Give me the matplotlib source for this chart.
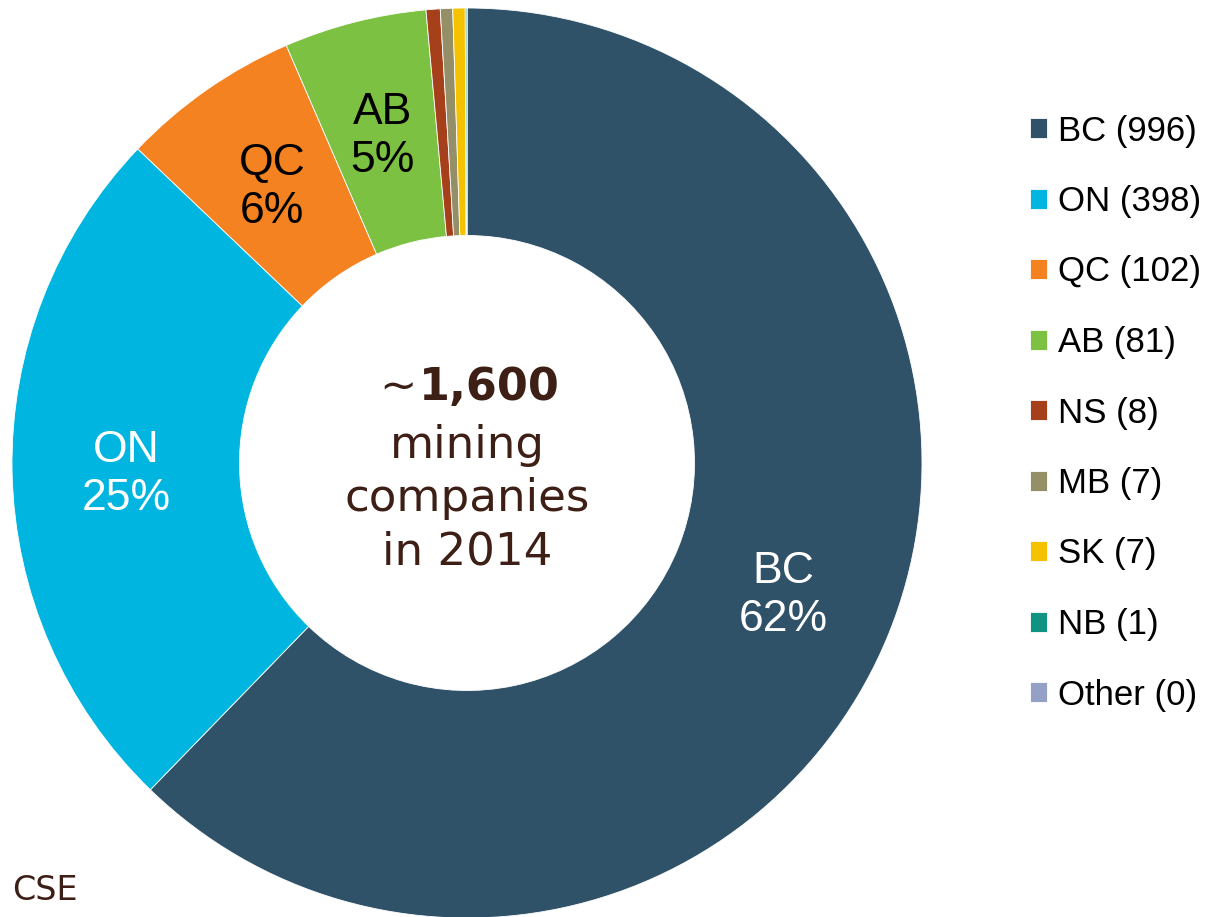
import matplotlib
matplotlib.use('Agg')
import matplotlib.pyplot as plt
import numpy as np

plt.rcParams['font.family'] = ['Liberation Sans', 'DejaVu Sans']

# provinces and company counts (2014)
provinces = ['BC', 'ON', 'QC', 'AB', 'NS', 'MB', 'SK', 'NB', 'Other']
counts = [996, 398, 102, 81, 8, 7, 7, 1, 0]
colors = ['#2F5269', '#00B5DF', '#F58220', '#7DC142', '#A5401A',
          '#948F67', '#F5C200', '#119384', '#94A0C6']
pct_labels = ['BC\n62%', 'ON\n25%', 'QC\n6%', 'AB\n5%', '', '', '', '', '']
label_colors = ['white', 'white', 'black', 'black', 'black', 'black', 'black', 'black', 'black']

brown = '#3D1F16'

fig = plt.figure(figsize=(12.06, 9.17), dpi=100)
ax = fig.add_axes([12 / 1206, -1 / 917, 910 / 1206, 910 / 917])

wedges, _ = ax.pie(counts, colors=colors, startangle=90, counterclock=False,
                   radius=1, wedgeprops=dict(width=0.5, edgecolor='white', linewidth=0.6))
ax.set_xlim(-1, 1)
ax.set_ylim(-1, 1)
ax.set_aspect('equal')
ax.axis('off')

# wedge labels
for w, lab, c in zip(wedges, pct_labels, label_colors):
    if not lab:
        continue
    ang = np.deg2rad((w.theta1 + w.theta2) / 2)
    r = 0.75
    ax.text(r * np.cos(ang), r * np.sin(ang) - 0.01, lab, ha='center', va='center',
            fontsize=32, color=c, linespacing=1.22)

# centre text
ax.text(-0.11, 0.165, '~', ha='right', va='center', fontsize=32,
        color=brown, family='DejaVu Sans')
ax.text(-0.105, 0.165, '1,600', ha='left', va='center', fontsize=32,
        color=brown, family='DejaVu Sans', fontweight='bold')
ax.text(0, -0.078, 'mining\ncompanies\nin 2014', ha='center', va='center',
        fontsize=32.5, color=brown, family='DejaVu Sans', linespacing=1.3)

legend_labels = [f'{p} ({n})' for p, n in zip(provinces, counts)]
fig.legend(wedges, legend_labels, loc='center left',
           bbox_to_anchor=(1030 / 1206, 1 - 413 / 917), frameon=False,
           fontsize=25, labelspacing=1.08, handlelength=0.5, handleheight=0.5,
           handletextpad=0.3, borderpad=0, borderaxespad=0)

fig.text(12 / 1206, 1 - 890 / 917, 'CSE', ha='left', va='center', fontsize=24,
         color=brown, family='DejaVu Sans')

fig.savefig('out.png', dpi=100, facecolor='white')
